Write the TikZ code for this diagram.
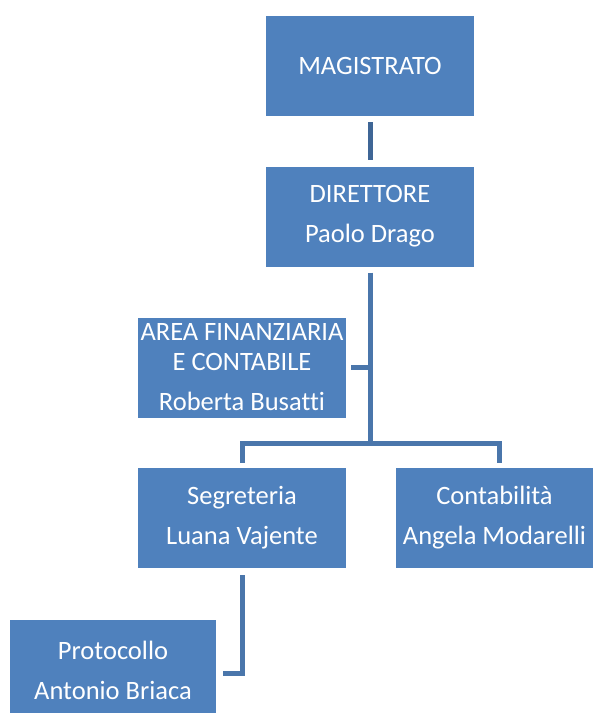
\documentclass[tikz,border=0pt]{standalone}
\usepackage{fontspec}
\setmainfont{Carlito}[Ligatures=CommonOff]
\definecolor{boxblue}{HTML}{4F81BD}
\definecolor{lineblue}{HTML}{4A76AB}
\definecolor{linedark}{HTML}{3F6696}

\begin{document}
\begin{tikzpicture}[x=1pt,y=-1pt,
  box/.style={fill=boxblue,text=white,minimum width=208pt,minimum height=100pt,
    inner sep=0pt,align=center,font=\fontsize{26.5}{30}\selectfont},
  link/.style={draw=lineblue,line width=5pt}]
\useasboundingbox (0,0) rectangle (594,713);
% boxes
\node[box] (mag) at (370,66) {MAGISTRATO};
\node[box] (dir) at (370,216.5) {DIRETTORE\\[10pt]Paolo Drago};
\node[box] (area) at (242,367.5) {AREA FINANZIARIA\\E CONTABILE\\[10pt]Roberta Busatti};
\node[box] (seg) at (242,518) {Segreteria\\[10pt]Luana Vajente};
\node[box,minimum width=197pt] (cont) at (494.5,518) {Contabilità\\[10pt]Angela Modarelli};
\node[box,minimum width=206pt] (prot) at (113,670) {Protocollo\\[10pt]Antonio Briaca};
% connectors
\coordinate (fork) at (370,443);
\draw[link,draw=linedark,shorten <=6pt,shorten >=6pt] (mag) -- (dir);
\draw[link,shorten <=6pt] (dir.south) -- (fork);
\draw[link,shorten <=5pt] (area.east) -- (area.east -| fork);
\draw[link,shorten >=5pt] (fork) -| (seg.north);
\draw[link,shorten >=5pt] (fork) -| ([xshift=4.5pt]cont.north);
\draw[link,shorten <=7pt,shorten >=7pt] (seg.south) |- ([yshift=-3pt]prot.east);
\end{tikzpicture}
\end{document}
